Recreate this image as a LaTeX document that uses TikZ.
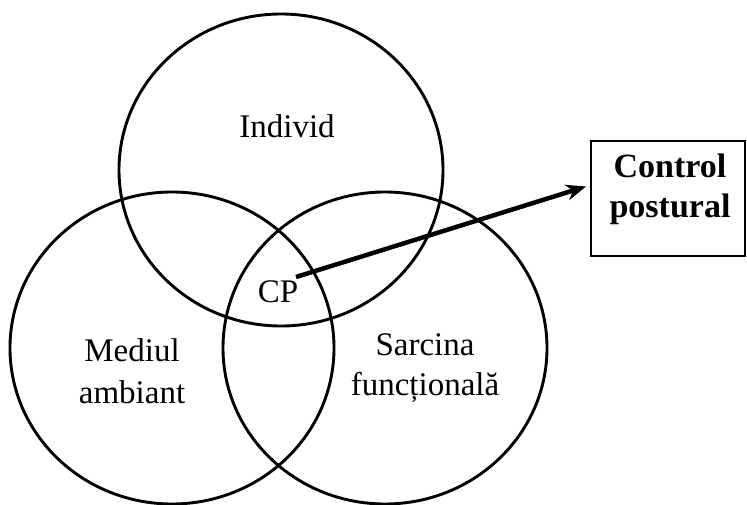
\documentclass[tikz,border=0pt]{standalone}
\usepackage{fontspec}
\setmainfont{Liberation Serif}
\usetikzlibrary{arrows.meta,shapes.geometric}
\begin{document}
\begin{tikzpicture}[x=1pt,y=-1pt,
  ring/.style={draw=black, line width=2.9pt, ellipse, minimum width=324pt, minimum height=312pt, inner sep=0pt},
  lbl/.style={anchor=base, inner sep=0pt, font=\fontsize{33}{40}\selectfont},
  blbl/.style={anchor=base, inner sep=0pt, font=\fontsize{34}{40}\selectfont\bfseries},
  framebox/.style={draw=black, line width=1.8pt, minimum width=154pt, minimum height=115pt, inner sep=0pt},
  bigarrow/.style={line width=4.5pt, -{Stealth[length=20pt,width=16pt]}}]
\useasboundingbox (0,0) rectangle (747,505);
\node[ring] (ind) at (281,170) {};
\node[ring] (med) at (172,348) {};
\node[ring] (sar) at (385,348) {};
\node[lbl] (tind) at (287,138) {Individ};
\node[lbl] (tmed1) at (132,361) {Mediul};
\node[lbl] (tmed2) at (132,403) {ambiant};
\node[lbl] (tsar1) at (425,355) {Sarcina};
\node[lbl] (tsar2) at (425,395) {funcțională};
\node[lbl] (cp) at (278,302) {CP};
\node[framebox] (box) at (668,198.5) {};
\node[blbl] (tc1) at (670,178) {Control};
\node[blbl] (tc2) at (670,218) {postural};
\coordinate (a0) at (296,277);
\coordinate (a1) at (586,186.5);
\draw[bigarrow] (a0) -- (a1);
\end{tikzpicture}
\end{document}
